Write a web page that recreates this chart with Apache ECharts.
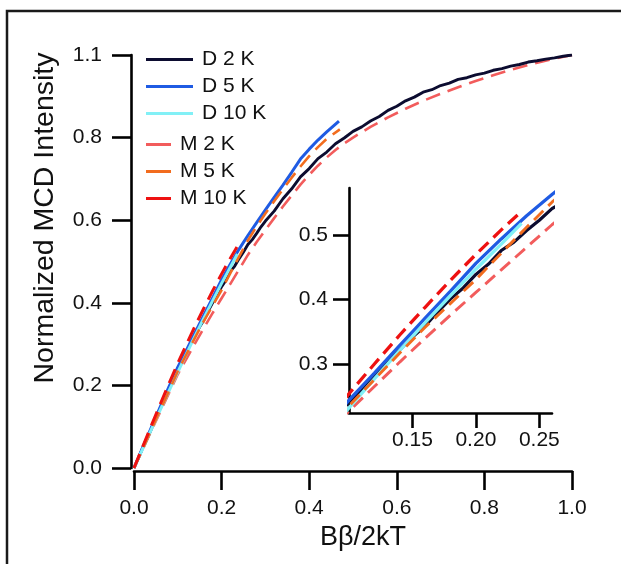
<!DOCTYPE html>
<html>
<head>
<meta charset="utf-8">
<script src="https://cdn.jsdelivr.net/npm/echarts@6/dist/echarts.min.js"></script>
<style>html,body{margin:0;padding:0;background:#fff}#c{width:621px;height:564px}</style>
</head>
<body>
<div id="c"></div>
<script>
// ---- data ----
const seriesNames = ['D 2 K', 'D 5 K', 'D 10 K', 'M 2 K', 'M 5 K', 'M 10 K'];
const xTickLabels = ['0.0', '0.2', '0.4', '0.6', '0.8', '1.0'];
const yTickLabels = ['0.0', '0.2', '0.4', '0.6', '0.8', '1.1'];
const insetXTicks = [0.15, 0.20, 0.25];
const insetXTickLabels = ['0.15', '0.20', '0.25'];
const insetYTicks = [0.3, 0.4, 0.5];
const insetYTickLabels = ['0.3', '0.4', '0.5'];

const d2K = [[0,0],[0.01,0.024],[0.02,0.049],[0.03,0.071],[0.04,0.095],[0.05,0.121],[0.06,0.145],[0.07,0.167],[0.08,0.191],[0.09,0.217],
  [0.10,0.241],[0.11,0.259],[0.12,0.280],[0.13,0.303],[0.14,0.322],[0.15,0.342],[0.16,0.359],[0.17,0.381],[0.18,0.401],[0.19,0.418],
  [0.20,0.439],[0.21,0.455],[0.22,0.476],[0.23,0.489],[0.24,0.507],[0.25,0.523],[0.26,0.541],[0.27,0.553],[0.28,0.568],[0.29,0.584],
  [0.30,0.598],[0.32,0.622],[0.34,0.652],[0.36,0.676],[0.38,0.705],[0.40,0.725],[0.42,0.749],[0.44,0.765],[0.46,0.785],[0.48,0.799],
  [0.50,0.815],[0.52,0.826],[0.54,0.840],[0.56,0.851],[0.58,0.866],[0.60,0.876],[0.62,0.889],[0.64,0.898],[0.66,0.910],[0.68,0.916],
  [0.70,0.926],[0.72,0.932],[0.74,0.941],[0.76,0.945],[0.78,0.952],[0.80,0.956],[0.82,0.963],[0.84,0.967],[0.86,0.973],[0.88,0.977],
  [0.90,0.983],[0.92,0.986],[0.94,0.990],[0.96,0.993],[0.98,0.997],[1.00,1.000]];
const d5K = [[0,0],[0.02,0.050],[0.04,0.099],[0.06,0.148],[0.08,0.197],[0.10,0.244],[0.12,0.286],[0.14,0.329],[0.15,0.350],[0.16,0.371],
  [0.18,0.413],[0.20,0.456],[0.22,0.494],[0.24,0.530],[0.26,0.563],[0.28,0.594],[0.30,0.625],[0.32,0.655],[0.34,0.685],[0.36,0.716],
  [0.38,0.748],[0.40,0.772],[0.42,0.794],[0.44,0.814],[0.468,0.840]];
const d10K = [[0,0],[0.02,0.047],[0.04,0.094],[0.06,0.141],[0.08,0.187],[0.10,0.232],[0.12,0.277],[0.14,0.321],[0.16,0.364],
  [0.18,0.406],[0.20,0.447],[0.22,0.486],[0.236,0.518]];
const m2K = [[0,0],[0.02,0.045],[0.04,0.091],[0.06,0.136],[0.08,0.182],[0.10,0.227],[0.12,0.265],[0.14,0.303],[0.16,0.340],[0.18,0.376],
  [0.20,0.411],[0.22,0.446],[0.24,0.481],[0.26,0.516],[0.28,0.547],[0.30,0.576],[0.32,0.605],[0.34,0.633],[0.36,0.660],[0.38,0.686],
  [0.40,0.710],[0.42,0.732],[0.44,0.752],[0.46,0.770],[0.48,0.786],[0.50,0.800],[0.54,0.826],[0.58,0.849],[0.62,0.870],[0.66,0.889],
  [0.70,0.906],[0.74,0.922],[0.78,0.937],[0.82,0.951],[0.86,0.964],[0.90,0.976],[0.95,0.989],[1.00,1.000]];
const m5K = [[0,0],[0.02,0.047],[0.04,0.094],[0.06,0.141],[0.08,0.187],[0.10,0.235],[0.12,0.276],[0.14,0.317],[0.16,0.357],[0.18,0.394],
  [0.20,0.431],[0.22,0.472],[0.24,0.512],[0.26,0.551],[0.28,0.585],[0.30,0.616],[0.32,0.646],[0.34,0.675],[0.36,0.703],[0.38,0.730],
  [0.40,0.755],[0.42,0.777],[0.44,0.797],[0.47,0.820]];
const m10K = [[0,0],[0.02,0.052],[0.04,0.104],[0.06,0.155],[0.08,0.205],[0.10,0.254],[0.12,0.300],[0.14,0.345],[0.16,0.388],
  [0.18,0.430],[0.20,0.470],[0.22,0.508],[0.235,0.535]];

const seriesData = [d2K, d5K, d10K, m2K, m5K, m10K];
const seriesColors = ['#0c0c30', '#1f5be3', '#82f0f6', '#f25c5c', '#f26c1e', '#ee1111'];
const seriesWidths = [2.9, 3, 3, 2.6, 2.6, 3];
const seriesDashed = [false, false, false, true, true, true];
const drawOrder = [3, 0, 1, 2, 4, 5];

// ---- chart ----
const FONT = 'Liberation Sans, Arial, sans-serif';
const chart = echarts.init(document.getElementById('c'), null, {renderer: 'canvas'});

const axisLine = {show: true, onZero: false, lineStyle: {color: '#000', width: 2.6}};
const series = [];
[0, 1].forEach(function (g) {
  drawOrder.forEach(function (i) {
    series.push({
      name: seriesNames[i], type: 'line', xAxisIndex: g, yAxisIndex: g,
      data: seriesData[i], showSymbol: false, symbol: 'none', clip: true,
      color: seriesColors[i],
      lineStyle: {color: seriesColors[i], width: seriesWidths[i] + (g ? 0.3 : 0),
        type: seriesDashed[i] ? (g ? [13, 7] : [15, 8]) : 'solid'},
      animation: false
    });
  });
});

const legendBase = {
  orient: 'vertical', icon: 'rect', itemHeight: 3, itemGap: 6, left: 146, padding: 0,
  selectedMode: false,
  textStyle: {fontSize: 21, fontFamily: FONT, color: '#111', lineHeight: 21, padding: [0, 0, 0, 4]}
};

chart.setOption({
  backgroundColor: '#fff',
  animation: false,
  legend: [
    Object.assign({}, legendBase, {data: seriesNames.slice(0, 3), top: 49, itemWidth: 47}),
    Object.assign({}, legendBase, {data: seriesNames.slice(3), top: 134, itemWidth: 25})
  ],
  grid: [
    {left: 134, right: 49, top: 55, bottom: 96},
    {left: 349, right: 69, top: 188, bottom: 151}
  ],
  xAxis: [
    {type: 'value', gridIndex: 0, min: 0, max: 1, interval: 0.2, offset: 3,
      axisLine: axisLine, splitLine: {show: false},
      axisTick: {show: true, inside: false, length: 19, lineStyle: {color: '#000', width: 2.6}},
      axisLabel: {margin: 27, fontSize: 21, fontFamily: FONT, color: '#111',
        formatter: function (v) { return xTickLabels[Math.round(v / 0.2)]; }},
      name: 'Bβ/2kT', nameLocation: 'middle', nameGap: 52,
      nameTextStyle: {fontSize: 27, fontFamily: FONT, color: '#111', padding: [0, 0, 0, 20]}},
    {type: 'value', gridIndex: 1, min: 0.1, max: 0.26,
      axisLine: axisLine, splitLine: {show: false},
      axisTick: {show: true, inside: false, length: 15, customValues: insetXTicks, lineStyle: {color: '#000', width: 2.6}},
      axisLabel: {margin: 17, fontSize: 21, fontFamily: FONT, color: '#111', customValues: insetXTicks,
        formatter: function (v) { return insetXTickLabels[insetXTicks.findIndex(function (t) { return Math.abs(t - v) < 1e-6; })]; }}}
  ],
  yAxis: [
    {type: 'value', gridIndex: 0, min: 0, max: 1, interval: 0.2, offset: 3,
      axisLine: axisLine, splitLine: {show: false},
      axisTick: {show: true, inside: false, length: 19, lineStyle: {color: '#000', width: 2.6}},
      axisLabel: {margin: 29, fontSize: 21, fontFamily: FONT, color: '#111',
        formatter: function (v) { return yTickLabels[Math.round(v / 0.2)]; }}},
    {type: 'value', gridIndex: 1, min: 0.224, max: 0.573,
      axisLine: axisLine, splitLine: {show: false},
      axisTick: {show: true, inside: false, length: 16, customValues: insetYTicks, lineStyle: {color: '#000', width: 2.6}},
      axisLabel: {margin: 21, fontSize: 21, fontFamily: FONT, color: '#111', customValues: insetYTicks,
        formatter: function (v) { return insetYTickLabels[insetYTicks.findIndex(function (t) { return Math.abs(t - v) < 1e-6; })]; }}}
  ],
  graphic: [
    {type: 'rect', shape: {x: 7, y: 11, width: 800, height: 800}, silent: true, z: -1,
      style: {fill: 'none', stroke: '#1a1a1a', lineWidth: 2.5}},
    {type: 'text', x: 45, y: 218, rotation: Math.PI / 2, silent: true,
      style: {text: 'Normalized MCD Intensity', fontSize: 28.5, fontFamily: FONT, fill: '#111',
        align: 'center', verticalAlign: 'middle'}}
  ],
  series: series
});
</script>
</body>
</html>
